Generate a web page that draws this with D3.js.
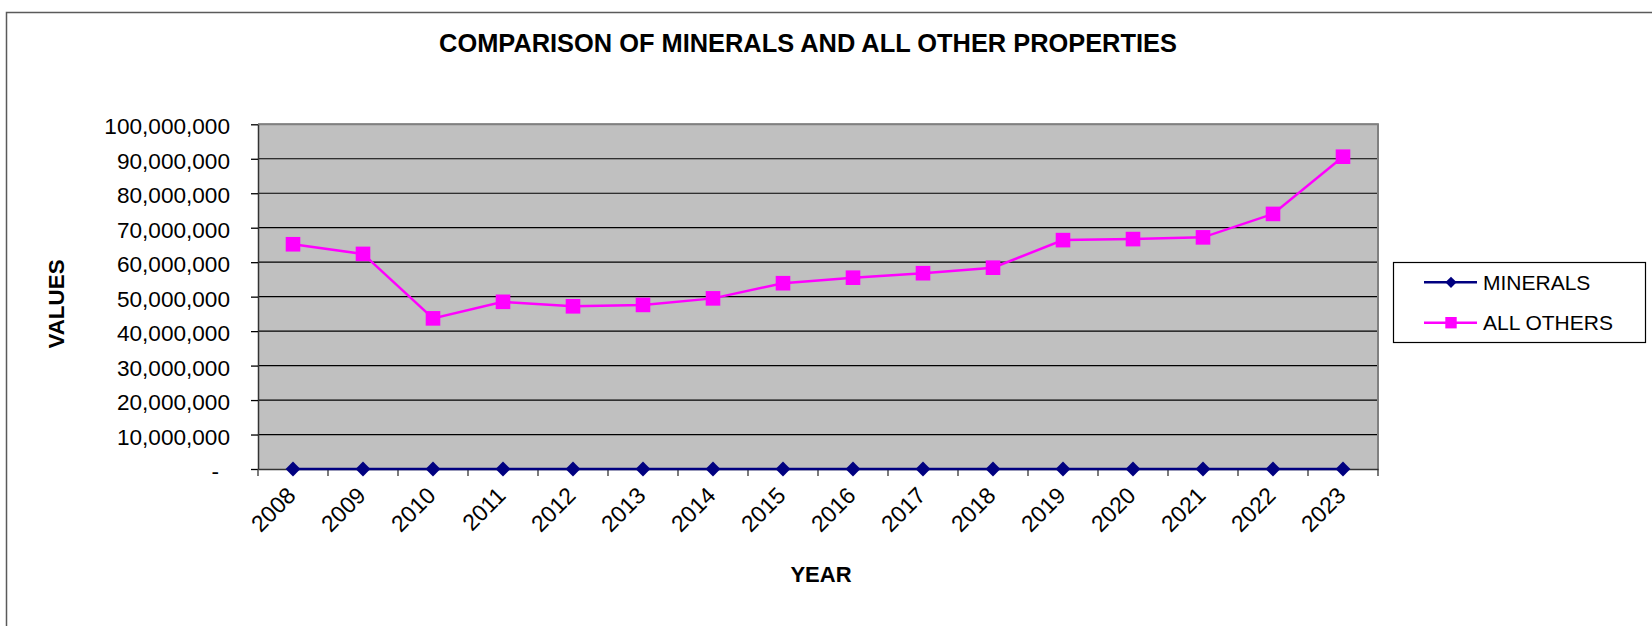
<!DOCTYPE html>
<html>
<head>
<meta charset="utf-8">
<script src="https://cdn.jsdelivr.net/npm/d3@7"></script>
<style>
  html, body { margin: 0; padding: 0; background: #fff; }
  svg { display: block; }
  text { font-family: "Liberation Sans", Arial, sans-serif; fill: #000; }
</style>
</head>
<body>
<script>
// ---- data ----
const years = ["2008","2009","2010","2011","2012","2013","2014","2015","2016","2017","2018","2019","2020","2021","2022","2023"];
const minerals = [0,0,0,0,0,0,0,0,0,0,0,0,0,0,0,0];
const allOthers = [65200000, 62400000, 43700000, 48500000, 47200000, 47600000, 49500000, 53900000,
                   55500000, 56800000, 58400000, 66400000, 66700000, 67200000, 74000000, 90600000];
const yTicks = [0, 10000000, 20000000, 30000000, 40000000, 50000000, 60000000, 70000000, 80000000, 90000000, 100000000];
const seriesNames = ["MINERALS", "ALL OTHERS"];
const titleText = "COMPARISON OF MINERALS AND ALL OTHER PROPERTIES";
const xTitle = "YEAR";
const yTitle = "VALUES";

// ---- layout ----
const W = 1652, H = 626;
const plot = { left: 258, right: 1378, top: 124.3, bottom: 469 };

const svg = d3.select("body").append("svg").attr("width", W).attr("height", H);
svg.append("rect").attr("width", W).attr("height", H).attr("fill", "#fff");

// chart area border
svg.append("rect").attr("x", 6.5).attr("y", 12.5).attr("width", 1700).attr("height", 700)
  .attr("fill", "none").attr("stroke", "#5a5a5a").attr("stroke-width", 1.5);

const x = d3.scaleBand().domain(years).range([plot.left, plot.right]).padding(0);
const y = d3.scaleLinear().domain([0, 100000000]).range([plot.bottom, plot.top]);
const cx = d => x(d) + x.bandwidth() / 2;

// plot background
svg.append("rect").attr("x", plot.left).attr("y", plot.top)
  .attr("width", plot.right - plot.left).attr("height", plot.bottom - plot.top)
  .attr("fill", "#c0c0c0");

// gridlines
svg.append("g").selectAll("line").data(yTicks.filter(d => d > 0)).join("line")
  .attr("x1", plot.left).attr("x2", plot.right)
  .attr("y1", d => y(d)).attr("y2", d => y(d))
  .attr("stroke", "#000").attr("stroke-width", 1.2);

// plot border top/right (gray)
svg.append("path")
  .attr("d", `M${plot.left},${plot.top}H${plot.right}V${plot.bottom}`)
  .attr("fill", "none").attr("stroke", "#808080").attr("stroke-width", 2);

// y axis
const yAxis = svg.append("g").attr("transform", `translate(${plot.left},0)`)
  .call(d3.axisLeft(y).tickValues(yTicks).tickSize(7).tickSizeOuter(0).tickPadding(21)
    .tickFormat(d => d === 0 ? "-" : d3.format(",")(d)));
yAxis.select(".domain").attr("stroke", "#333").attr("stroke-width", 1.5);
yAxis.selectAll(".tick line").attr("stroke", "#000").attr("stroke-width", 1.3);
yAxis.selectAll(".tick text").attr("font-size", 22.6).attr("dy", "0.42em")
  .attr("font-family", "Liberation Sans, Arial, sans-serif");
yAxis.selectAll(".tick text").filter(d => d === 0).attr("dx", -11);

// x axis (labels at category centers, ticks at category boundaries)
const xAxis = svg.append("g").attr("transform", `translate(0,${plot.bottom})`)
  .call(d3.axisBottom(x).tickSize(0).tickSizeOuter(0));
xAxis.select(".domain").attr("stroke", "#333").attr("stroke-width", 1.5);
xAxis.selectAll(".tick text")
  .attr("font-size", 23).attr("font-family", "Liberation Sans, Arial, sans-serif")
  .attr("text-anchor", "end").attr("x", 0).attr("y", 0).attr("dy", 0)
  .attr("transform", "translate(4,28) rotate(-45)");
const boundaries = years.map(d => x(d)).concat([x.range()[1]]);
xAxis.append("g").selectAll("line").data(boundaries).join("line")
  .attr("x1", d => d).attr("x2", d => d).attr("y1", 0).attr("y2", 7)
  .attr("stroke", "#333").attr("stroke-width", 1.3);

// series
const line = d3.line().x(d => cx(d.year)).y(d => y(d.v));
const mData = years.map((yr, i) => ({ year: yr, v: minerals[i] }));
const oData = years.map((yr, i) => ({ year: yr, v: allOthers[i] }));

svg.append("path").datum(mData).attr("d", line)
  .attr("fill", "none").attr("stroke", "#000080").attr("stroke-width", 2.5);
svg.append("g").selectAll("path").data(mData).join("path")
  .attr("d", d3.symbol().type(d3.symbolDiamond2).size(140))
  .attr("transform", d => `translate(${cx(d.year)},${y(d.v)})`)
  .attr("fill", "#000080");

svg.append("path").datum(oData).attr("d", line)
  .attr("fill", "none").attr("stroke", "#ff00ff").attr("stroke-width", 2.5);
svg.append("g").selectAll("rect").data(oData).join("rect")
  .attr("x", d => cx(d.year) - 7.3).attr("y", d => y(d.v) - 7.3)
  .attr("width", 14.6).attr("height", 14.6).attr("fill", "#ff00ff");

// titles
svg.append("text").attr("x", 808).attr("y", 52).attr("text-anchor", "middle")
  .attr("font-size", 25.4).attr("font-weight", "bold").text(titleText);
svg.append("text").attr("x", 821).attr("y", 582).attr("text-anchor", "middle")
  .attr("font-size", 22).attr("font-weight", "bold").text(xTitle);
svg.append("text").attr("transform", "translate(63.5,304) rotate(-90)").attr("text-anchor", "middle")
  .attr("font-size", 22.4).attr("font-weight", "bold").text(yTitle);

// legend
const lg = svg.append("g");
lg.append("rect").attr("x", 1393.5).attr("y", 262.5).attr("width", 252).attr("height", 80)
  .attr("fill", "#fff").attr("stroke", "#000").attr("stroke-width", 1.2);
const rowsY = [282.3, 322.7];
const colors = ["#000080", "#ff00ff"];
seriesNames.forEach((name, i) => {
  lg.append("line").attr("x1", 1424).attr("x2", 1477).attr("y1", rowsY[i]).attr("y2", rowsY[i])
    .attr("stroke", colors[i]).attr("stroke-width", 2.5);
  if (i === 0) {
    lg.append("path").attr("d", d3.symbol().type(d3.symbolDiamond2).size(80))
      .attr("transform", `translate(1451,${rowsY[i]})`).attr("fill", colors[i]);
  } else {
    lg.append("rect").attr("x", 1451 - 5.7).attr("y", rowsY[i] - 5.7).attr("width", 11.4).attr("height", 11.4)
      .attr("fill", colors[i]);
  }
  lg.append("text").attr("x", 1483).attr("y", rowsY[i] + 7.2).attr("font-size", 21).text(name);
});
</script>
</body>
</html>
